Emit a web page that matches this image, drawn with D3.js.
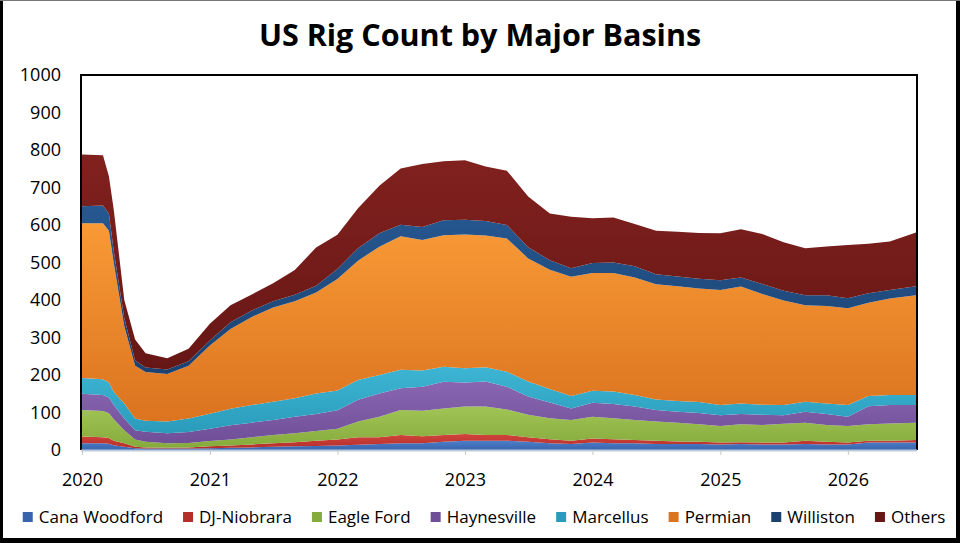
<!DOCTYPE html>
<html><head><meta charset="utf-8">
<script src="https://cdn.jsdelivr.net/npm/d3@7"></script>
<style>body{margin:0;background:#fff} svg{display:block} text{font-family:"Open Sans",sans-serif;fill:#000}</style>
</head><body><svg id="c" width="960" height="543"></svg>
<script>
const title = "US Rig Count by Major Basins";
const series = ["Cana Woodford","DJ-Niobrara","Eagle Ford","Haynesville","Marcellus","Permian","Williston","Others"];
const dates = ["2020-01-01","2020-03-01","2020-03-18","2020-04-01","2020-05-01","2020-06-01","2020-07-01","2020-09-01","2020-11-01",
 "2021-01-01","2021-03-01","2021-05-01","2021-07-01","2021-09-01","2021-11-01",
 "2022-01-01","2022-03-01","2022-05-01","2022-07-01","2022-09-01","2022-11-01",
 "2023-01-01","2023-03-01","2023-05-01","2023-07-01","2023-09-01","2023-11-01",
 "2024-01-01","2024-03-01","2024-05-01","2024-07-01","2024-09-01","2024-11-01",
 "2025-01-01","2025-03-01","2025-05-01","2025-07-01","2025-09-01","2025-11-01",
 "2026-01-01","2026-03-01","2026-05-01","2026-07-15"];
const canaWoodford = [18,18,17,13,9,5,4,4,4, 5,6,7,9,10,11, 12,14,16,18,18,22, 25,25,25,22,18,16, 20,18,18,16,16,16, 15,16,15,15,16,15, 15,20,20,20];
const djNiobrara   = [18,16,15,12,9,4,3,2,3, 5,6,8,9,11,14, 16,20,18,22,19,18, 18,15,15,12,11,9, 11,11,9,9,7,6, 5,5,5,5,9,7, 5,5,5,7];
const eagleFord    = [71,70,66,57,35,19,15,12,12, 14,16,19,22,24,26, 29,42,55,67,68,71, 73,76,68,60,56,55, 58,56,53,51,50,47, 44,48,47,50,48,45, 44,44,46,46];
const haynesville  = [43,43,42,38,31,25,27,27,29, 33,38,39,40,44,45, 49,58,62,58,64,71, 64,67,61,49,42,31, 37,38,36,31,29,30, 29,27,27,23,29,29, 25,48,49,47];
const marcellus    = [42,42,40,35,40,31,29,31,36, 40,44,47,49,49,55, 53,53,49,49,43,40, 38,38,40,40,36,33, 32,33,31,28,29,29, 27,28,27,27,27,28, 31,27,27,27];
const permian      = [413,416,405,343,206,141,130,127,141, 182,213,235,251,259,269, 297,318,342,356,348,351, 357,351,355,328,318,318, 314,316,313,307,306,303, 307,312,295,279,257,260, 258,249,257,266];
const williston    = [45,47,45,32,22,14,12,12,12, 13,18,17,17,17,18, 27,33,36,31,35,40, 39,39,36,30,25,23, 27,28,30,27,26,26, 26,24,27,26,27,29, 27,25,23,24];
const others       = [138,134,100,110,48,56,38,30,33, 45,45,43,48,66,102, 91,107,127,150,168,157, 159,145,145,135,125,137, 119,120,113,116,119,122, 125,129,133,129,125,130, 142,132,129,143];
const yTicks = [0,100,200,300,400,500,600,700,800,900,1000];
const xTickLabels = ["2020","2021","2022","2023","2024","2025","2026"];

const colors = {
  "Cana Woodford":["#4d80c9","#3963ad"],
  "DJ-Niobrara":["#d2443d","#b52f2a"],
  "Eagle Ford":["#a0c555","#86ab3d"],
  "Haynesville":["#8a66b1","#6f4f98"],
  "Marcellus":["#3eb5d4","#2a9bbb"],
  "Permian":["#f89a36","#db731f"],
  "Williston":["#265891","#1b416f"],
  "Others":["#81211e","#661715"]
};

const parse = d3.utcParse("%Y-%m-%d");
const values = [canaWoodford,djNiobrara,eagleFord,haynesville,marcellus,permian,williston,others];
const table = dates.map((d,i)=>{const r={date:parse(d)}; series.forEach((s,k)=>r[s]=values[k][i]); return r;});

const svg = d3.select("#c");
const L=82,R=916,T=75,B=450;
const x = d3.scaleUtc().domain([table[0].date, table[table.length-1].date]).range([L,R]);
const y = d3.scaleLinear().domain([0,1000]).range([B,T]);

const defs = svg.append("defs");
series.forEach((s,i)=>{
  const g = defs.append("linearGradient").attr("id","g"+i).attr("x1",0).attr("y1",0).attr("x2",0).attr("y2",1);
  g.append("stop").attr("offset","0%").attr("stop-color",colors[s][0]);
  g.append("stop").attr("offset","100%").attr("stop-color",colors[s][1]);
});

const stacked = d3.stack().keys(series)(table);
const area = d3.area().x(d=>x(d.data.date)).y0(d=>y(d[0])).y1(d=>y(d[1]));
svg.append("g").selectAll("path").data(stacked).join("path")
  .attr("d",area).attr("fill",(d,i)=>`url(#g${i})`);

// plot frame (top, left, right)
svg.append("path").attr("d",`M81,${B} V${T} H917 V${B}`).attr("fill","none").attr("stroke","#000").attr("stroke-width",2);

// y axis
const ya = svg.append("g").attr("transform",`translate(81,0)`)
  .call(d3.axisLeft(y).tickValues(yTicks).tickSize(0).tickPadding(20).tickFormat(d3.format("d")));
ya.select(".domain").remove();
ya.selectAll("text").attr("font-size",18).attr("font-family","'Open Sans',sans-serif").attr("fill","#000");

// x axis
const years = xTickLabels.map(v=>parse(v+"-01-01"));
const xa = svg.append("g").attr("transform",`translate(0,${B})`)
  .call(d3.axisBottom(x).tickValues(years).tickSize(5).tickPadding(18).tickFormat(d3.utcFormat("%Y")));
xa.select(".domain").attr("d",`M81,0.5H917`).attr("stroke","#bccbdc").attr("stroke-width",2);
xa.selectAll(".tick line").attr("stroke","#c8c8c8");
xa.selectAll("text").attr("font-size",18).attr("font-family","'Open Sans',sans-serif").attr("fill","#000");

// title
svg.append("text").attr("x",480).attr("y",46).attr("text-anchor","middle")
  .attr("font-size",30.5).attr("font-weight","bold").text(title);

// legend
const lg = svg.append("g");
const items = lg.selectAll("g").data(series).join("g");
items.append("rect").attr("width",10).attr("height",10).attr("y",-5).attr("fill",d=>colors[d][1]);
items.append("text").attr("x",16).attr("y",0).attr("dy","0.35em").attr("font-size",17).text(d=>d);
let widths = [];
items.each(function(){ widths.push(this.querySelector("text").getComputedTextLength()); });
const gap = 20;
const total = widths.reduce((a,w)=>a+16+w,0) + gap*(widths.length-1);
let cx = 484 - total/2;
items.attr("transform",(d,i)=>{const t=`translate(${cx},517)`; cx += 16+widths[i]+gap; return t;});

// outer frame
svg.append("rect").attr("x",0).attr("y",0).attr("width",3).attr("height",543).attr("fill","#000");
svg.append("rect").attr("x",956).attr("y",0).attr("width",4).attr("height",543).attr("fill","#000");
svg.append("rect").attr("x",0).attr("y",538).attr("width",960).attr("height",5).attr("fill","#000");
svg.append("rect").attr("x",0).attr("y",0).attr("width",960).attr("height",1).attr("fill","#777");
</script></body></html>
